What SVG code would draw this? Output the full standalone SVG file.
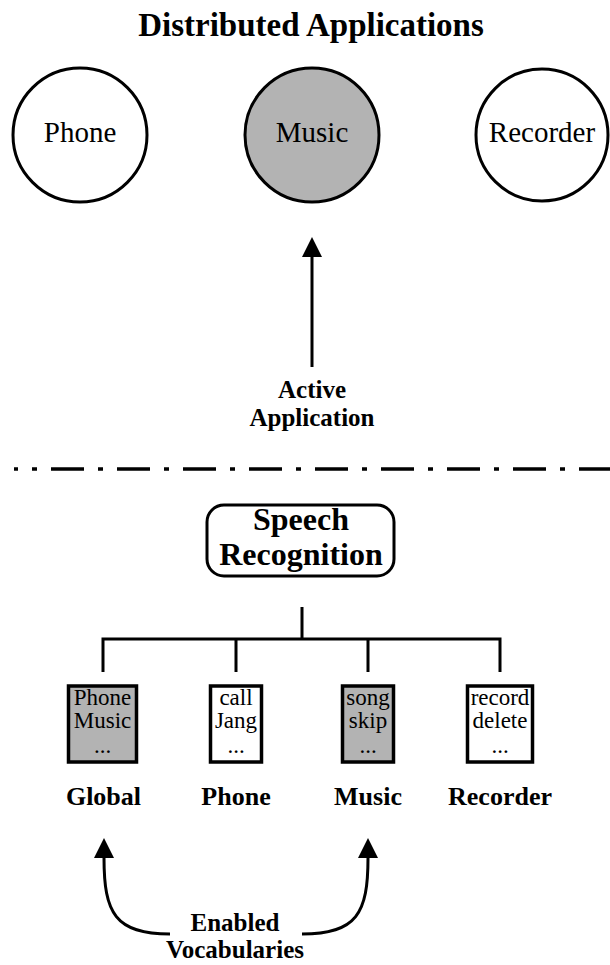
<svg xmlns="http://www.w3.org/2000/svg" width="610" height="965" viewBox="0 0 610 965">
  <style>
    text { font-family: "Liberation Serif", "Times New Roman", serif; fill: #000; text-anchor: middle; }
    .title { font-size: 33px; font-weight: bold; }
    .app { font-size: 29px; }
    .lbl { font-size: 26px; font-weight: bold; }
    .two { font-size: 25px; font-weight: bold; }
    .sr { font-size: 32px; font-weight: bold; }
    .voc { font-size: 23px; }
    .circ { stroke: #000; stroke-width: 3; }
    .line { fill: none; stroke: #000; stroke-width: 3; }
    .box { stroke: #000; stroke-width: 3.5; }
    .white { fill: #fff; }
    .gray { fill: #b3b3b3; }
  </style>
  <defs>
    <marker id="ah" markerUnits="userSpaceOnUse" markerWidth="20" markerHeight="20" refX="0" refY="10" orient="auto" viewBox="0 0 20 20">
      <path d="M0,0 L20,10 L0,20 z" fill="#000"/>
    </marker>
  </defs>

  <text class="title" x="311" y="36">Distributed Applications</text>

  <g id="app-phone">
    <circle class="circ white" cx="80" cy="135" r="67"/>
    <text class="app" x="80" y="142">Phone</text>
  </g>
  <g id="app-music">
    <circle class="circ gray" cx="312" cy="135" r="67"/>
    <text class="app" x="312" y="142">Music</text>
  </g>
  <g id="app-recorder">
    <circle class="circ white" cx="542" cy="135" r="66"/>
    <text class="app" x="542" y="142">Recorder</text>
  </g>

  <g id="active-label">
    <text class="two" x="312" y="398">Active</text>
    <text class="two" x="312" y="426">Application</text>
  </g>

  <g id="divider">
    <line x1="14" y1="469" x2="610" y2="469" stroke="#000" stroke-width="3.5" stroke-dasharray="33 14 5 14" stroke-dashoffset="29"/>
  </g>

  <g id="speech-recognition">
    <rect x="207" y="505" width="187" height="71" rx="17" ry="17" fill="#fff" stroke="#000" stroke-width="3"/>
    <text class="sr" x="301" y="530">Speech</text>
    <text class="sr" x="301" y="565">Recognition</text>
  </g>

  <g id="connectors">
    <path class="line" d="M312,367 L312,257" marker-end="url(#ah)"/>
    <path class="line" d="M302,607 L302,639 M103,672 L103,639 L500,639 L500,672 M236,639 L236,672 M368,639 L368,672"/>
    <path class="line" d="M170,934 C115,934 104,913 104,858" marker-end="url(#ah)"/>
    <path class="line" d="M302,934 C357,934 368,913 368,858" marker-end="url(#ah)"/>
  </g>

  <g id="vocab-global">
    <rect class="box gray" x="68.5" y="686" width="68" height="76"/>
    <text class="voc" x="102.5" y="705">Phone</text>
    <text class="voc" x="102.5" y="728">Music</text>
    <text class="voc" x="102.5" y="753">...</text>
    <text class="lbl" x="103.5" y="805">Global</text>
  </g>
  <g id="vocab-phone">
    <rect class="box white" x="210.5" y="686" width="51" height="76"/>
    <text class="voc" x="236" y="705">call</text>
    <text class="voc" x="236" y="728">Jang</text>
    <text class="voc" x="236" y="753">...</text>
    <text class="lbl" x="236" y="805">Phone</text>
  </g>
  <g id="vocab-music">
    <rect class="box gray" x="342.5" y="686" width="51" height="76"/>
    <text class="voc" x="368" y="705">song</text>
    <text class="voc" x="368" y="728">skip</text>
    <text class="voc" x="368" y="753">...</text>
    <text class="lbl" x="368" y="805">Music</text>
  </g>
  <g id="vocab-recorder">
    <rect class="box white" x="467.5" y="686" width="65" height="76"/>
    <text class="voc" x="500" y="705">record</text>
    <text class="voc" x="500" y="728">delete</text>
    <text class="voc" x="500" y="753">...</text>
    <text class="lbl" x="500" y="805">Recorder</text>
  </g>

  <g id="enabled-label">
    <text class="two" x="235" y="931">Enabled</text>
    <text class="two" x="235" y="958">Vocabularies</text>
  </g>
</svg>
